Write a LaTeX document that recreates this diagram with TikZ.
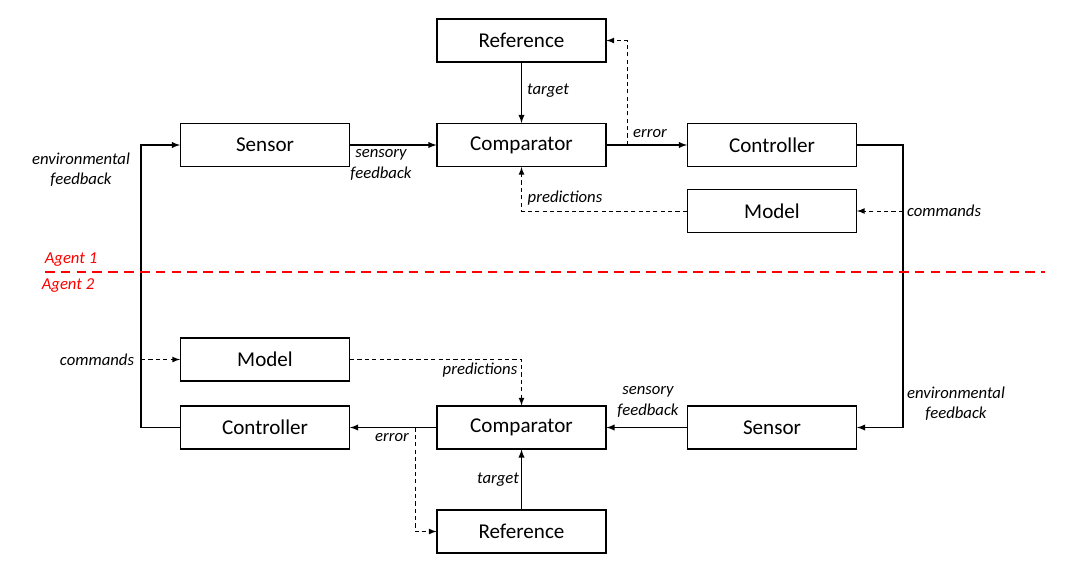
\documentclass[tikz,border=0pt]{standalone}
\usepackage{fontspec}
\setmainfont{Carlito}
\usepackage{tikz}
\usetikzlibrary{arrows}
\tikzstyle{block} = [rectangle, minimum width=3.38cm, minimum height=0.86cm, text centered, draw=black, font=\fontsize{12}{14}\selectfont]
\tikzstyle{lbl} = [font=\itshape\fontsize{9.5}{11.5}\selectfont, align=center]
\tikzstyle{agent} = [font=\itshape\fontsize{9.5}{11.5}\selectfont, text=red]
\tikzstyle{arrow} = [->,>=latex]
\tikzstyle{dasharrow} = [->,>=latex, line width=0.5pt, dash pattern=on 2.4pt off 1.8pt]
\tikzstyle{divider} = [red, line width=1.2pt, dash pattern=on 5.5pt off 3.5pt]

\begin{document}
\begin{tikzpicture}[x=0.02cm, y=-0.02cm, line width=0.6pt]
			\useasboundingbox (0,0) rectangle (1072,565);
			% agent 1
			\node (ref1) [block] at (521.5,40.5) {Reference};
			\node (sens1) [block] at (265,145) {Sensor};
			\node (comp1) [block] at (521.5,145) {Comparator};
			\node (ctrl1) [block] at (772,145) {Controller};
			\node (mod1) [block] at (772,211) {Model};
			% agent 2
			\node (mod2) [block] at (265,359.5) {Model};
			\node (ctrl2) [block] at (265,427.5) {Controller};
			\node (comp2) [block] at (521.5,427.5) {Comparator};
			\node (sens2) [block] at (772,427.5) {Sensor};
			\node (ref2) [block] at (521.5,531.5) {Reference};

			\coordinate (busL) at (141,272);
			\coordinate (busR) at (903,272);
			\coordinate (err1) at (627,145);
			\coordinate (err2) at (415,427.5);

			\draw [arrow] (ref1) -- (comp1);
			\draw [arrow] (sens1) -- (comp1);
			\draw [arrow] (comp1) -- (ctrl1);
			\draw [dasharrow] (err1) |- (ref1.east);
			\draw [arrow] (ctrl1.east) -| (busR) |- (sens2.east);
			\draw [dasharrow] (busR |- mod1.east) -- (mod1.east);
			\draw [dasharrow] (mod1.west) -| (comp1.south);

			\draw [arrow] (sens2) -- (comp2);
			\draw [arrow] (comp2) -- (ctrl2);
			\draw [dasharrow] (err2) |- (ref2.west);
			\draw [arrow] (ref2) -- (comp2);
			\draw [dasharrow] (mod2.east) -| (comp2.north);
			\draw [arrow] (ctrl2.west) -| (busL) |- (sens1.west);
			\draw [dasharrow] (busL |- mod2.west) -- (mod2.west);

			\node (l_target1) [lbl] at (548,91) {target};
			\node (l_sens1) [lbl] at (381,165) {sensory\\feedback};
			\node (l_err1) [lbl] at (650,134) {error};
			\node (l_pred1) [lbl] at (565,198) {predictions};
			\node (l_cmd1) [lbl] at (944,211) {commands};
			\node (l_env1) [lbl] at (956,404) {environmental\\feedback};
			\node (l_sens2) [lbl] at (648,402) {sensory\\feedback};
			\node (l_err2) [lbl] at (392,438) {error};
			\node (l_target2) [lbl] at (498,480) {target};
			\node (l_pred2) [lbl] at (480,370) {predictions};
			\node (l_cmd2) [lbl] at (97,360) {commands};
			\node (l_env2) [lbl] at (81,170) {environmental\\feedback};

			\draw [divider] (45,272) -- (1045,272);
			\node (ag1) [agent] at (71,260) {Agent 1};
			\node (ag2) [agent] at (68,286) {Agent 2};
		\end{tikzpicture}
\end{document}
